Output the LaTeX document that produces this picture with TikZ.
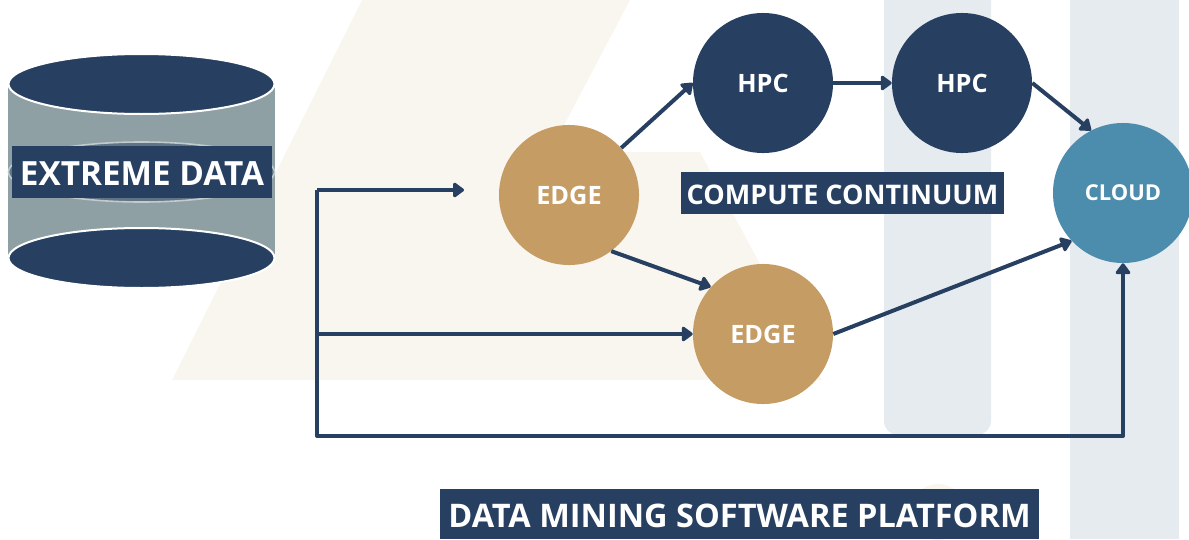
\documentclass[tikz,border=0pt]{standalone}
\usepackage{fontspec}
\setmainfont{Open Sans}
\usetikzlibrary{arrows.meta}
\usetikzlibrary{positioning}

\definecolor{navyblue}{HTML}{273F60}
\definecolor{edgetan}{HTML}{C69C65}
\definecolor{cloudblue}{HTML}{4C8CAD}
\definecolor{drumgrey}{HTML}{8FA0A5}
\definecolor{bandgrey}{HTML}{E6EBF0}
\definecolor{shadebeige}{HTML}{F9F6F0}

\tikzset{
  site/.style={circle,minimum size=3.5cm,inner sep=0pt,text=white,font=\bfseries\fontsize{18}{20}\selectfont},
  banner/.style={fill=navyblue,text=white,inner sep=0pt,text depth=0pt,font=\bfseries},
  link/.style={draw=navyblue,line width=0.1cm,-{Triangle[round,length=0.3cm,width=0.42cm]}},
  rail/.style={draw=navyblue,line width=0.1cm},
}

\begin{document}
\begin{tikzpicture}[x=0.025cm,y=-0.025cm]
\useasboundingbox (0,0) rectangle (1189,539);

\fill[shadebeige] (172,380) -- (362,0) -- (630,0) -- (550,152) -- (700,152) -- (822,380) -- cycle;
\fill[shadebeige] (938,512) circle (28);
\fill[bandgrey,rounded corners=0.35cm] (884,-20) rectangle (991,435);
\fill[bandgrey] (1070,0) rectangle (1179,539);

% drum
\fill[drumgrey] (8,84) rectangle (275,258);
\draw[draw=white!45!drumgrey,fill=navyblue!45!drumgrey,line width=0.04cm] (141.5,172) ellipse [x radius=133,y radius=30];
\draw[draw=white,fill=navyblue,line width=0.05cm] (141.5,84) ellipse [x radius=133,y radius=30];
\draw[draw=white,fill=navyblue,line width=0.05cm] (141.5,258) ellipse [x radius=133,y radius=30];
\node[banner,minimum width=6.5cm,minimum height=1.3cm,text height=19.2pt,font=\bfseries\fontsize{23.7}{26}\selectfont] (data) at (142,172) {EXTREME DATA};

\node[site,fill=edgetan] (edge a) at (569,195) {EDGE};
\node[site,fill=edgetan] (edge b) at (763,334) {EDGE};
\node[site,fill=navyblue] (hpc a) at (763,83) {HPC};
\node[site,fill=navyblue] (hpc b) at (962,83) {HPC};
\node[site,fill=cloudblue,font=\bfseries\fontsize{15.6}{17}\selectfont] (cloud) at (1123,193) {CLOUD};

\node[banner,minimum width=8.075cm,minimum height=1.05cm,text height=16pt,font=\bfseries\fontsize{19.2}{21}\selectfont] (continuum) at (842.5,193) {COMPUTE CONTINUUM};
\node[banner,minimum width=14.975cm,minimum height=1.25cm,text height=18.8pt,font=\bfseries\fontsize{23.1}{25}\selectfont] (platform) at (739.5,514) {DATA MINING SOFTWARE PLATFORM};

\coordinate (top) at (317,190);
\coordinate (mid) at (317,334);
\coordinate (low) at (317,436);
\coordinate (end) at (464,190);
\coordinate (turn) at (1123,436);

\draw[rail] (top) -- (low);
\draw[rail,line cap=round] (low) -- (turn);
\draw[link] (top) -- (end);
\draw[link] (mid) -- (edge b.west);
\draw[link] (turn) -- (cloud.south);

\draw[link] (edge a.42) -- (hpc a.west);
\draw[link] (edge a.-53) -- (edge b.138);
\draw[link] (hpc a.east) -- (hpc b.west);
\draw[link] (hpc b.east) -- (cloud.117);
\draw[link] (edge b.east) -- (cloud.223);
\end{tikzpicture}
\end{document}
